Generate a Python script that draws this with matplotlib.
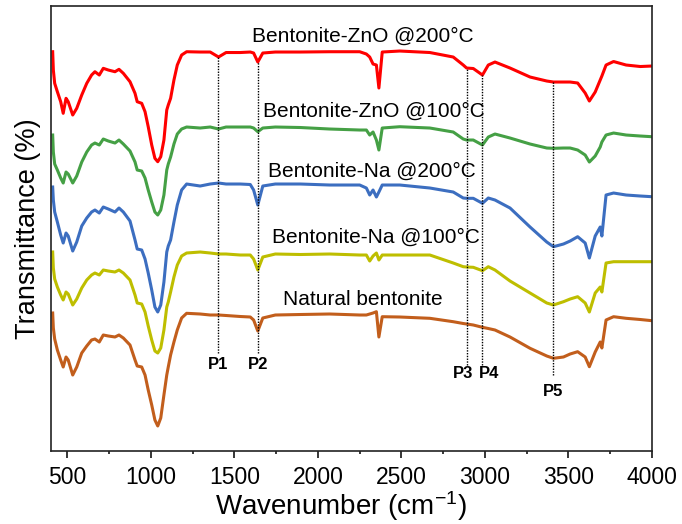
import matplotlib
matplotlib.use("Agg")
import matplotlib.pyplot as plt
from matplotlib.ticker import MultipleLocator

plt.rcParams['font.family'] = ['Liberation Sans', 'DejaVu Sans']
plt.rcParams['mathtext.fontset'] = 'custom'
plt.rcParams['mathtext.rm'] = 'Liberation Sans'
plt.rcParams['mathtext.it'] = 'Liberation Sans:italic'

# wavenumber grid (cm-1) shared by all spectra
wavenumber = [412, 416, 424, 440, 460, 475, 492, 505, 532, 556,
              586, 616, 645, 665, 691, 715, 745, 785, 809, 835,
              875, 905, 918, 945, 965, 984, 1005, 1024, 1041, 1059,
              1078, 1095, 1104, 1118, 1138, 1158, 1184, 1214,
              1295, 1355, 1405, 1450, 1535, 1595, 1615, 1640, 1670, 1745,
              1895, 2070, 2250, 2290, 2310, 2330, 2350, 2365, 2385, 2490,
              2670, 2810, 2870, 2890, 2930, 2985, 3020, 3060, 3150, 3270,
              3370, 3410, 3470, 3510, 3555, 3600, 3625, 3660, 3690, 3700,
              3725, 3770, 3845, 3930, 4000]

# stacked transmittance (a.u.), top to bottom
zno_200 = [398.3, 380, 366.7, 358.3, 348.3, 336.7, 351.7, 348.3, 335, 341.7,
           355, 366.7, 375, 378.3, 375, 381.7, 380, 378.3, 380.7, 376.7,
           368.3, 356.7, 348.3, 346.7, 338.3, 323.3, 305, 291.7, 288.3, 293.3,
           310, 340, 345, 351.7, 370, 385, 395, 398.3,
           398, 398, 393, 397.5, 397.5, 398, 397, 388, 397, 398,
           398, 398.3, 398.3, 396, 393, 386, 385, 362, 398, 399,
           397.5, 393, 385, 382, 381.5, 375, 385, 388, 382, 373,
           369, 368, 368, 368, 367, 357, 349, 358, 370, 374,
           385, 388.5, 385, 383.5, 384]

zno_100 = [315, 298, 286, 280, 272, 267, 278, 276, 267, 274,
           288, 298, 305, 307, 305, 311, 309, 307, 310, 306,
           299, 288, 280, 279, 272, 260, 248, 238, 235, 240,
           255, 280, 286, 293, 306, 316, 321, 323,
           322, 323, 321, 323, 323, 323, 322, 318.3, 322, 323,
           322.5, 321, 320, 320, 315, 318, 310, 300, 322, 323.3,
           322, 318, 311, 310, 310, 305, 313, 316, 312, 306,
           302, 301.7, 302, 302, 300, 295, 288, 294, 303, 308,
           315, 317, 315, 314, 313.3]

na_200 = [263, 250, 238, 228, 215, 207, 217, 214, 199, 208,
          224, 232, 238, 240, 237, 243, 241, 238, 242, 238,
          229, 210, 201, 200, 191, 177, 160, 143, 138, 145,
          168, 198, 204, 210, 228, 245, 260, 266,
          264, 266, 267, 266, 266, 265.5, 260, 245, 264, 266,
          266, 265, 265, 262, 255, 260, 253, 258, 265, 265,
          262, 258, 252, 251.7, 251.7, 246.7, 252, 250, 242, 223,
          208, 203.3, 206, 209, 213.3, 207, 192, 214, 223, 214,
          255, 257, 255, 254, 253.3]

na_100 = [198, 182, 171, 163, 155, 150, 158, 156, 145, 151,
          162, 170, 175, 177, 175, 180, 179, 178, 180, 177,
          170, 155, 147, 146, 138, 124, 110, 99, 97, 102,
          120, 143, 148, 158, 173, 185, 194, 197,
          198, 197, 196, 196, 195, 195, 191, 180, 193, 196,
          195.5, 196, 195, 195, 189, 194, 197, 190, 195, 195,
          195, 187, 183.3, 183, 182.7, 179.3, 183.3, 180, 169, 157,
          147, 145, 148.3, 151, 153.3, 147, 138, 157, 163, 158,
          187, 188.3, 188.3, 188.3, 188.3]

natural = [137, 122, 111, 100, 90, 83, 93, 90, 75, 83,
           97, 104, 110, 111, 108, 115, 114, 113, 115, 112,
           105, 90, 84, 83, 75, 60, 45, 30, 24, 32,
           55, 75, 83, 95, 108, 120, 132, 136.7,
           136, 135, 135, 134.5, 133.5, 133, 130, 119, 132, 135,
           135.5, 136, 135, 135, 136, 137, 138.3, 113, 133.3, 133,
           131.7, 128.3, 126.5, 126, 125, 122.7, 121.5, 120, 113, 101.7,
           94, 91.7, 93, 96, 98.3, 93, 83.3, 98, 108, 102,
           130, 133.3, 131.7, 130.5, 129.3]

names = ['Bentonite-ZnO @200°C', 'Bentonite-ZnO @100°C', 'Bentonite-Na @200°C',
         'Bentonite-Na @100°C', 'Natural bentonite']
colors = ['#FF0000', '#45A045', '#3C6EC0', '#BEBE00', '#C25E1C']
label_x = [1603, 1673, 1703, 1723, 1793]
label_y = [408, 333, 273, 207, 145]

# marked bands
peak_names = ['P1', 'P2', 'P3', 'P4', 'P5']
peak_pos = [1403, 1643, 2894, 2984, 3405]
peak_top = [393, 388, 382, 375, 368]
peak_bottom = [97, 97, 85, 85, 75]
peak_label_x = [1403, 1643, 2870, 3026, 3405]
peak_label_y = [85, 85, 76, 76, 58]

fig = plt.figure(figsize=(6.82, 5.24), dpi=100)
ax = fig.add_axes([0.0743, 0.1399, 0.8817, 0.8486])

series = [zno_200, zno_100, na_200, na_100, natural]
for vals, c in zip(series, colors):
    ax.plot(wavenumber, vals, color=c, lw=2.2, solid_joinstyle='round')

for name, x, y in zip(names, label_x, label_y):
    ax.text(x, y, name, fontsize=15, ha='left', va='baseline')

ax.vlines(peak_pos, peak_bottom, peak_top, colors='k', linestyles=(0, (1, 1)), lw=1.0)
for p, x, y in zip(peak_names, peak_label_x, peak_label_y):
    ax.text(x, y, p, fontsize=12, fontweight='bold', ha='center', va='center')

ax.set_xlim(400, 4000)
ax.set_ylim(-0.7, 444)
ax.xaxis.set_major_locator(MultipleLocator(500))
ax.xaxis.set_minor_locator(MultipleLocator(250))
ax.tick_params(axis='x', which='major', direction='out', length=5, width=1.1,
               labelsize=16.5, pad=6)
ax.tick_params(axis='x', which='minor', direction='out', length=2.5, width=1.1)
ax.set_yticks([])
for s in ax.spines.values():
    s.set_linewidth(1.2)
    s.set_color('#222222')

ax.set_xlabel(r'Wavenumber (cm$^{-1}$)', fontsize=20, labelpad=0, x=0.482)
ax.set_ylabel('Transmittance (%)', fontsize=19.5, labelpad=7)

fig.savefig('out.png', dpi=100)
